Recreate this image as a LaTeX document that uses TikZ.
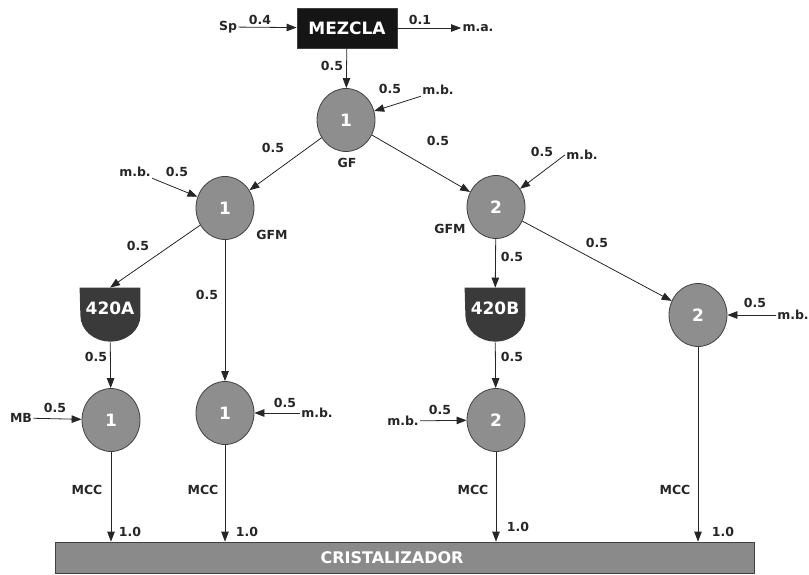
\documentclass[tikz,border=0pt]{standalone}
\usepackage{fontspec}
\setmainfont{DejaVu Sans}
\usetikzlibrary{arrows.meta, shapes.geometric, backgrounds}
\definecolor{cnode}{HTML}{8E8E8E}
\definecolor{cedge}{HTML}{404040}
\definecolor{ctank}{HTML}{3A3A3A}
\definecolor{cmix}{HTML}{151515}
\definecolor{cbar}{HTML}{8A8A8A}
\tikzset{
  every picture/.style={font=\bfseries, line width=0.8pt},
  unit/.style={ellipse, draw=cedge, fill=cnode, minimum width=58pt, minimum height=63pt, inner sep=0pt, text=white, font=\fontsize{17}{18}\selectfont\bfseries},
  tank/.style={minimum width=60pt, minimum height=54pt, inner sep=0pt, text depth=14pt, text=white, font=\fontsize{17}{18}\selectfont\bfseries},
  mix/.style={draw=cedge, fill=cmix, minimum width=100pt, minimum height=40pt, text=white, font=\fontsize{17}{18}\selectfont\bfseries},
  bar/.style={draw=cedge, fill=cbar, minimum width=699pt, minimum height=31pt, text=white, font=\fontsize{16}{18}\selectfont\bfseries},
  flow/.style={-{Triangle[length=10pt, width=7.5pt]}, draw=black!85},
  lbl/.style={font=\fontsize{12.5}{13}\selectfont\bfseries, text=black!85, inner sep=1pt},
}

\begin{document}
\begin{tikzpicture}[x=1pt, y=1pt]
  \useasboundingbox (0,0) rectangle (809,574);
  % process units
  \node[mix] (mezcla) at (347,546) {MEZCLA};
  \node[unit] (gf) at (346,454) {1};
  \node[unit] (gfmA) at (225,366) {1};
  \node[unit] (gfmB) at (496,367) {2};
  \node[tank] (tA) at (110,259) {420A};
  \node[tank] (tB) at (495,259) {420B};
  \node[unit] (rC) at (698,259) {2};
  \node[unit] (mA) at (111,154) {1};
  \node[unit] (mB) at (225,161) {1};
  \node[unit] (mC) at (496,154) {2};
  \node[bar] (cr) at (404.5,16.5) {\hspace*{-25pt}CRISTALIZADOR};
  \begin{scope}[on background layer]
    \foreach \t in {tA,tB}
      \fill[ctank] (\t.north west) -- (\t.north east) -- ++(0,-28)
        arc[start angle=0, end angle=-180, x radius=30pt, y radius=26pt] -- cycle;
  \end{scope}

  % side streams
  \node[lbl] (sp) at (228,547) {Sp};
  \node[lbl] (ma) at (478,546) {m.a.};
  \node[lbl] (mb0) at (438,484) {m.b.};
  \node[lbl] (mb1) at (135,402) {m.b.};
  \node[lbl] (mb2) at (582,419) {m.b.};
  \node[lbl] (mb3) at (793,259) {m.b.};
  \node[lbl] (mb4) at (21,156) {MB};
  \node[lbl] (mb5) at (317,161) {m.b.};
  \node[lbl] (mb6) at (403,153) {m.b.};

  \draw[flow] (sp) -- (mezcla);
  \draw[flow] (mezcla) -- (ma);
  \draw[flow] (mezcla) -- (gf);
  \draw[flow] (mb0.south west) -- (gf);
  \draw[flow] (gf) -- (gfmA);
  \draw[flow] (gf) -- (gfmB);
  \draw[flow] (mb1.south east) -- (gfmA);
  \draw[flow] (mb2.west) -- (gfmB);
  \draw[flow] (gfmA) -- (tA.north);
  \draw[flow] (gfmA) -- (mB);
  \draw[flow] (gfmB) -- (tB);
  \draw[flow] (gfmB) -- (rC);
  \draw[flow] (mb3) -- (rC);
  \draw[flow] (tA) -- (mA);
  \draw[flow] (tB) -- (mC);
  \draw[flow] (mb4) -- (mA);
  \draw[flow] (mb5) -- (mB);
  \draw[flow] (mb6) -- (mC);
  \foreach \m in {mA,mB,mC,rC}
    \draw[flow] (\m) -- (\m |- cr.north);

  % stream values
  \foreach \x/\y/\t [count=\i] in {260/554/0.4, 420/554/0.1, 332/508/0.5, 390/485/0.5,
      347/411/GF, 273/426/0.5, 438/433/0.5, 177/402/0.5, 272/339/GFM, 542/422/0.5,
      450/345/GFM, 138/328/0.5, 207/279/0.5, 512/317/0.5, 597/331/0.5, 755/271/0.5,
      96/217/0.5, 512/217/0.5, 55/166/0.5, 285/171/0.5, 440/164/0.5,
      87/84/MCC, 203/84/MCC, 473/84/MCC, 675/84/MCC,
      130/42/1.0, 247/42/1.0, 518/47/1.0, 723/42/1.0}
    \node[lbl] (v\i) at (\x,\y) {\t};
\end{tikzpicture}
\end{document}
